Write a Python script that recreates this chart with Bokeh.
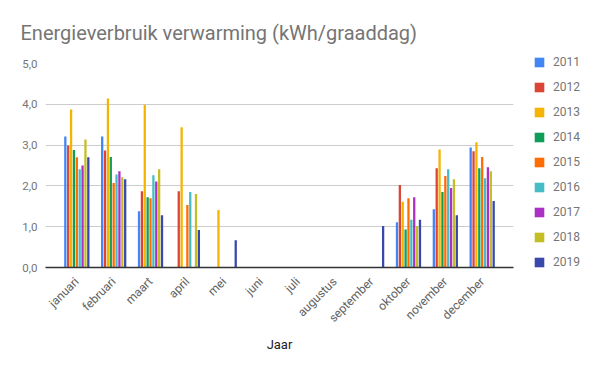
import math
from bokeh.plotting import figure
from bokeh.models import ColumnDataSource, FactorRange, Range1d, FixedTicker, Legend, LegendItem
from bokeh.transform import dodge
from bokeh.embed import file_html
from bokeh.resources import INLINE

nan = float("nan")

months = ["januari", "februari", "maart", "april", "mei", "juni", "juli",
          "augustus", "september", "oktober", "november", "december"]
years = ["2011", "2012", "2013", "2014", "2015", "2016", "2017", "2018", "2019"]

v2011 = [3.21, 3.21, 1.38, nan, nan, nan, nan, nan, nan, 1.11, 1.43, 2.94]
v2012 = [2.99, 2.87, 1.87, 1.87, nan, nan, nan, nan, nan, 2.02, 2.43, 2.85]
v2013 = [3.87, 4.14, 3.99, 3.44, 1.41, nan, nan, nan, nan, 1.61, 2.89, 3.07]
v2014 = [2.88, 2.71, 1.72, nan, nan, nan, nan, nan, nan, 0.93, 1.85, 2.43]
v2015 = [2.70, 2.07, 1.70, 1.53, nan, nan, nan, nan, nan, 1.70, 2.24, 2.71]
v2016 = [2.41, 2.28, 2.26, 1.85, nan, nan, nan, nan, nan, 1.17, 2.41, 2.19]
v2017 = [2.50, 2.36, 2.11, nan, nan, nan, nan, nan, nan, 1.72, 1.95, 2.46]
v2018 = [3.14, 2.21, 2.41, 1.80, nan, nan, nan, nan, nan, 1.02, 2.16, 2.36]
v2019 = [2.70, 2.16, 1.28, 0.92, 0.67, nan, nan, nan, 1.02, 1.17, 1.28, 1.63]

series = [v2011, v2012, v2013, v2014, v2015, v2016, v2017, v2018, v2019]
colors = ["#4285F4", "#DB4437", "#F4B400", "#0F9D58", "#FF6D00",
          "#46BDC6", "#AB30C4", "#C4BE24", "#3949AB"]

y_ticks = [0, 1, 2, 3, 4, 5]
y_labels = ["0,0", "1,0", "2,0", "3,0", "4,0", "5,0"]

data = {"month": months}
for y, s in zip(years, series):
    data[y] = s
source = ColumnDataSource(data)

p = figure(x_range=FactorRange(*months, range_padding=0.35, range_padding_units="absolute"),
           y_range=Range1d(0, 5),
           frame_width=468, frame_height=204, output_backend="svg", toolbar_location=None,
           min_border_left=45, min_border_right=0, min_border_top=63, min_border_bottom=93)

slot = 0.078
items = []
for i, (y, c) in enumerate(zip(years, colors)):
    r = p.vbar(x=dodge("month", (i - 4) * slot, range=p.x_range), top=y, width=0.062,
               source=source, fill_color=c, line_color=None)
    items.append(LegendItem(label=y, renderers=[r]))

legend = Legend(items=items, location=(20, -2), padding=0, margin=20,
                glyph_width=12, glyph_height=12, label_height=12, spacing=11,
                label_standoff=8, label_text_font="Roboto", label_text_font_size="12px",
                label_text_color="#757575", border_line_color=None,
                background_fill_alpha=0)
p.add_layout(legend, "right")

p.title.text = "Energieverbruik verwarming (kWh/graaddag)"
p.title.text_font = "Roboto"
p.title.text_font_size = "20px"
p.title.text_font_style = "normal"
p.title.text_color = "#757575"
p.title.align = "left"
p.title.offset = -25
p.title.standoff = 37

p.outline_line_color = None
p.xgrid.grid_line_color = None
p.ygrid.grid_line_color = "#CCCCCC"
p.ygrid.ticker = FixedTicker(ticks=y_ticks)

p.yaxis.ticker = FixedTicker(ticks=y_ticks)
p.yaxis.major_label_overrides = {t: l for t, l in zip(y_ticks, y_labels)}
p.yaxis.axis_line_color = None
p.yaxis.major_tick_line_color = None
p.yaxis.minor_tick_line_color = None
p.yaxis.major_label_text_font = "Roboto"
p.yaxis.major_label_text_font_size = "11.5px"
p.yaxis.major_label_text_color = "#757575"
p.yaxis.major_label_standoff = 2

p.xaxis.axis_line_color = "#333333"
p.xaxis.axis_line_width = 1.5
p.xaxis.major_tick_line_color = None
p.xaxis.minor_tick_line_color = None
p.xaxis.major_label_orientation = math.pi / 4
p.xaxis.major_label_text_font = "Roboto"
p.xaxis.major_label_text_font_size = "12px"
p.xaxis.major_label_text_color = "#616161"
p.xaxis.major_label_standoff = 6
p.xaxis.axis_label = "Jaar"
p.xaxis.axis_label_text_font = "Roboto"
p.xaxis.axis_label_text_font_size = "13px"
p.xaxis.axis_label_text_font_style = "normal"
p.xaxis.axis_label_text_color = "#222222"
p.xaxis.axis_label_standoff = 4

open("out.html", "w").write(file_html(p, INLINE))
